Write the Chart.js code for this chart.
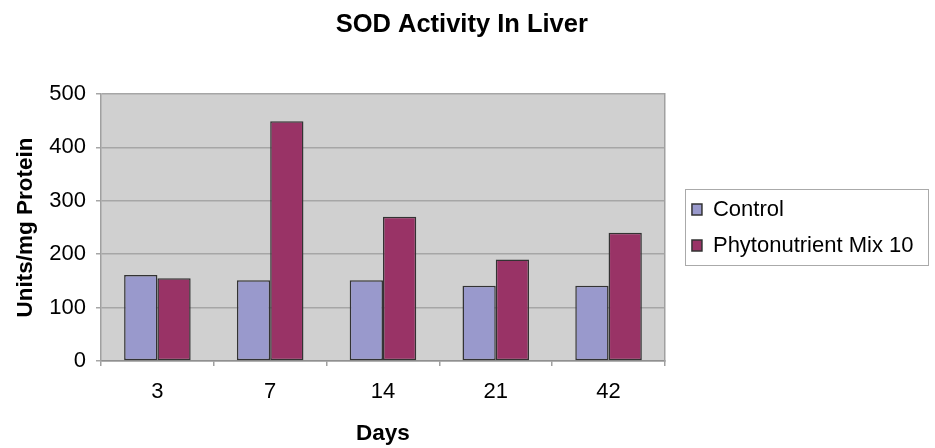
<!DOCTYPE html>
<html>
<head>
<meta charset="utf-8">
<title>SOD Activity In Liver</title>
<script src="https://cdn.jsdelivr.net/npm/chart.js@4/dist/chart.umd.min.js"></script>
<style>
  html, body { margin: 0; padding: 0; background: #ffffff; }
  #wrap { width: 935px; height: 448px; }
</style>
</head>
<body>
<div id="wrap"><canvas id="chart" width="935" height="448"></canvas></div>
<script>
// Sampling days (x categories)
const days = ['3', '7', '14', '21', '42'];

// SOD activity, Units/mg Protein
const controlValues = [161, 151, 151, 141, 141];
const phytoValues = [155, 449, 270, 190, 240];

// Series names
const seriesNames = ['Control', 'Phytonutrient Mix 10'];

// Y axis range
const yMin = 0;
const yMax = 500;
const yStep = 100;

const FONT = "'Liberation Sans', Arial, Helvetica, sans-serif";

// Grey plot background behind the bars
const plotFill = {
  id: 'plotFill',
  beforeDraw(chart, args, opts) {
    const { ctx, chartArea: a } = chart;
    ctx.save();
    ctx.fillStyle = opts.color;
    ctx.fillRect(a.left, a.top, a.right - a.left, a.bottom - a.top);
    ctx.restore();
  }
};

// Thin frame around the legend entries
const legendFrame = {
  id: 'legendFrame',
  afterDraw(chart, args, opts) {
    const lg = chart.legend;
    if (!lg || !lg.legendHitBoxes || !lg.legendHitBoxes.length) return;
    const hb = lg.legendHitBoxes;
    let right = 0;
    hb.forEach(h => { right = Math.max(right, h.left + h.width); });
    const first = hb[0], last = hb[hb.length - 1];
    const x0 = first.left - opts.padLeft;
    const y0 = first.top - opts.padTop;
    const x1 = right + opts.padRight;
    const y1 = last.top + last.height + opts.padBottom;
    const ctx = chart.ctx;
    ctx.save();
    ctx.strokeStyle = opts.color;
    ctx.lineWidth = 1;
    ctx.strokeRect(Math.round(x0) + 0.5, Math.round(y0) + 0.5, Math.round(x1 - x0), Math.round(y1 - y0));
    ctx.restore();
  }
};

new Chart(document.getElementById('chart'), {
  type: 'bar',
  data: {
    labels: days,
    datasets: [
      {
        label: seriesNames[0],
        data: controlValues,
        backgroundColor: '#9999CC',
        borderColor: '#333333',
        borderWidth: 1.5,
        borderSkipped: false
      },
      {
        label: seriesNames[1],
        data: phytoValues,
        backgroundColor: '#993366',
        borderColor: '#333333',
        borderWidth: 1.5,
        borderSkipped: false
      }
    ]
  },
  options: {
    responsive: false,
    animation: false,
    devicePixelRatio: 1,
    categoryPercentage: 0.59,
    barPercentage: 1,
    layout: { padding: { left: 0, right: 11.5, top: 0, bottom: 0 } },
    plugins: {
      title: {
        display: true,
        text: 'SOD Activity In Liver',
        color: '#000000',
        font: { family: FONT, size: 25.5, weight: 'bold' },
        padding: { top: 10, bottom: 53.4 }
      },
      legend: {
        display: true,
        position: 'right',
        fullSize: false,
        maxWidth: 400,
        labels: {
          color: '#000000',
          font: { family: FONT, size: 22 },
          boxWidth: 10,
          boxHeight: 11,
          padding: 14
        }
      },
      tooltip: { enabled: false },
      plotFill: { color: '#D0D0D0' },
      legendFrame: { color: '#AAAAAA', padLeft: 7, padRight: 14, padTop: 9.5, padBottom: 8.5 }
    },
    scales: {
      x: {
        position: 'bottom',
        offset: true,
        afterFit(scale) { scale.height = 87; },
        grid: {
          display: true,
          offset: true,
          drawOnChartArea: false,
          drawTicks: true,
          tickLength: 5,
          color: '#A0A0A0',
          lineWidth: 1.5
        },
        border: { display: true, color: '#909090', width: 1.5 },
        ticks: {
          color: '#000000',
          font: { family: FONT, size: 22 },
          padding: 13,
          maxRotation: 0
        },
        title: {
          display: true,
          text: 'Days',
          color: '#000000',
          font: { family: FONT, size: 22.5, weight: 'bold' },
          padding: { top: 0, bottom: 1 }
        }
      },
      y: {
        position: 'left',
        min: yMin,
        max: yMax,
        afterFit(scale) { scale.width = 101; },
        grid: {
          display: true,
          drawOnChartArea: true,
          drawTicks: true,
          tickLength: 5,
          color: '#A6A6A6',
          lineWidth: 1.5
        },
        border: { display: true, color: '#A0A0A0', width: 1.5 },
        ticks: {
          stepSize: yStep,
          color: '#000000',
          font: { family: FONT, size: 22 },
          padding: 10
        },
        title: {
          display: true,
          text: 'Units/mg Protein',
          color: '#000000',
          font: { family: FONT, size: 22.5, weight: 'bold' },
          padding: { top: 12, bottom: 0 }
        }
      },
      yRight: {
        position: 'right',
        display: true,
        afterFit(scale) { scale.width = 13; },
        grid: { display: false },
        ticks: { display: false },
        border: { display: true, color: '#A0A0A0', width: 1.5 }
      }
    }
  },
  plugins: [plotFill, legendFrame]
});
</script>
</body>
</html>
